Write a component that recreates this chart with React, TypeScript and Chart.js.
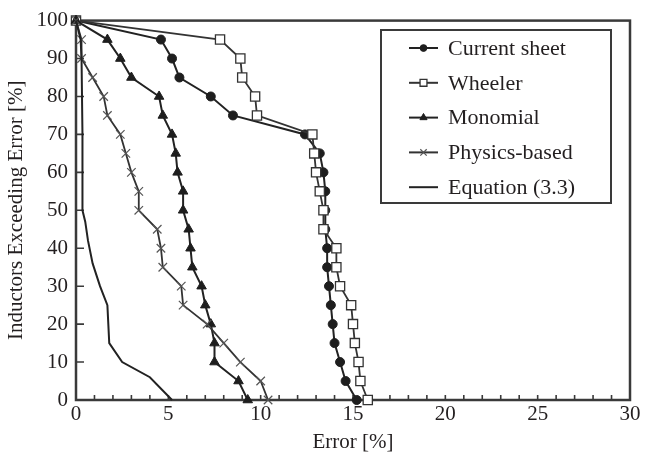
import React, { useEffect, useRef } from "react";
import { Chart, registerables } from "chart.js";

Chart.register(...registerables);

const FONT = "'Liberation Serif', 'Times New Roman', serif";
const INK = "#231f20";

// percentage levels (y) shared by the marker series
const levels = [100, 95, 90, 85, 80, 75, 70, 65, 60, 55, 50, 45, 40, 35, 30, 25, 20, 15, 10, 5, 0];

const currentSheetX = [0, 4.6, 5.2, 5.6, 7.3, 8.5, 12.4, 13.2, 13.4, 13.5, 13.5, 13.5, 13.6, 13.6, 13.7, 13.8, 13.9, 14.0, 14.3, 14.6, 15.2];
const wheelerX = [0, 7.8, 8.9, 9.0, 9.7, 9.8, 12.8, 12.9, 13.0, 13.2, 13.4, 13.4, 14.1, 14.1, 14.3, 14.9, 15.0, 15.1, 15.3, 15.4, 15.8];
const monomialX = [0, 1.7, 2.4, 3.0, 4.5, 4.7, 5.2, 5.4, 5.5, 5.8, 5.8, 6.1, 6.2, 6.3, 6.8, 7.0, 7.3, 7.5, 7.5, 8.8, 9.3];
const physicsX = [0, 0.3, 0.3, 0.9, 1.5, 1.7, 2.4, 2.7, 3.0, 3.4, 3.4, 4.4, 4.6, 4.7, 5.7, 5.8, 7.1, 8.0, 8.9, 10.0, 10.4];

const equationX = [0, 0.25, 0.3, 0.35, 0.35, 0.5, 0.65, 0.9, 1.3, 1.7, 1.75, 1.8, 2.5, 4.0, 5.2];
const equationY = [100, 95, 90, 70, 50, 47, 42, 36, 30, 25, 20, 15, 10, 6, 0];

const seriesNames = ["Current sheet", "Wheeler", "Monomial", "Physics-based", "Equation (3.3)"];

const xTicks = [0, 5, 10, 15, 20, 25, 30];
const yTicks = [0, 10, 20, 30, 40, 50, 60, 70, 80, 90, 100];

type Pt = { x: number; y: number };
const pts = (xs: number[], ys: number[]): Pt[] => xs.map((x, i) => ({ x, y: ys[i] }));

function drawMarker(ctx: CanvasRenderingContext2D, style: string, x: number, y: number, r: number, fill: string, stroke: string, lw: number) {
  ctx.save();
  ctx.lineWidth = lw;
  ctx.strokeStyle = stroke;
  ctx.fillStyle = fill;
  ctx.beginPath();
  if (style === "circle") {
    ctx.arc(x, y, r, 0, Math.PI * 2);
    ctx.fill();
    ctx.stroke();
  } else if (style === "rect") {
    const s = r * Math.SQRT1_2;
    ctx.rect(x - s, y - s, 2 * s, 2 * s);
    ctx.fill();
    ctx.stroke();
  } else if (style === "triangle") {
    const h = r * 1.5;
    const w = (r * Math.sqrt(3)) / 2;
    ctx.moveTo(x, y - h * 0.6667);
    ctx.lineTo(x + w, y + h * 0.3333);
    ctx.lineTo(x - w, y + h * 0.3333);
    ctx.closePath();
    ctx.fill();
    ctx.stroke();
  } else if (style === "crossRot") {
    const d = r * Math.SQRT1_2;
    ctx.moveTo(x - d, y - d);
    ctx.lineTo(x + d, y + d);
    ctx.moveTo(x - d, y + d);
    ctx.lineTo(x + d, y - d);
    ctx.stroke();
  }
  ctx.restore();
}

export default function App() {
  const ref = useRef<HTMLCanvasElement>(null);

  useEffect(() => {
    if (!ref.current) return;

    const styles = [
      { name: seriesNames[0], style: "circle", r: 4.5, fill: "#1e1e1e", stroke: "#1e1e1e", pbw: 1, line: "#222", lw: 2 },
      { name: seriesNames[1], style: "rect", r: 6.5, fill: "#ffffff", stroke: "#333", pbw: 1.3, line: "#333", lw: 1.8 },
      { name: seriesNames[2], style: "triangle", r: 5.5, fill: "#1e1e1e", stroke: "#1e1e1e", pbw: 1, line: "#222", lw: 2 },
      { name: seriesNames[3], style: "crossRot", r: 6, fill: "rgba(0,0,0,0)", stroke: "#555", pbw: 1.2, line: "#333", lw: 1.8 },
      { name: seriesNames[4], style: false as any, r: 0, fill: "#222", stroke: "#222", pbw: 0, line: "#222", lw: 2 },
    ];

    const dataSets = [
      pts(currentSheetX, levels),
      pts(wheelerX, levels),
      pts(monomialX, levels),
      pts(physicsX, levels),
      pts(equationX, equationY),
    ];

    const framePlugin = {
      id: "frame",
      beforeDatasetsDraw(chart: any) {
        const { ctx, chartArea: a, scales } = chart;
        ctx.save();
        ctx.strokeStyle = "#3a3a3a";
        ctx.lineWidth = 2.5;
        ctx.strokeRect(a.left, a.top, a.right - a.left, a.bottom - a.top);
        ctx.lineWidth = 1.6;
        ctx.beginPath();
        for (let v = 1; v < 30; v++) {
          const px = scales.x.getPixelForValue(v);
          ctx.moveTo(px, a.bottom);
          ctx.lineTo(px, a.bottom - 5);
        }
        for (let v = 10; v < 100; v += 10) {
          const py = scales.y.getPixelForValue(v);
          ctx.moveTo(a.left, py);
          ctx.lineTo(a.left + 8, py);
        }
        ctx.stroke();
        ctx.restore();
      },
    };

    const legendPlugin = {
      id: "boxLegend",
      afterDraw(chart: any) {
        const { ctx } = chart;
        const left = 381, top = 30, right = 611, bottom = 203;
        ctx.save();
        ctx.fillStyle = "#fff";
        ctx.fillRect(left, top, right - left, bottom - top);
        ctx.strokeStyle = "#3a3a3a";
        ctx.lineWidth = 2;
        ctx.strokeRect(left, top, right - left, bottom - top);
        styles.forEach((s, i) => {
          const y = 48 + i * 34.8;
          ctx.strokeStyle = s.line;
          ctx.lineWidth = 2;
          ctx.beginPath();
          ctx.moveTo(409, y);
          ctx.lineTo(438, y);
          ctx.stroke();
          if (s.style) drawMarker(ctx, s.style, 423.5, y, s.r * 0.75, s.fill, s.stroke, s.pbw);
          ctx.fillStyle = INK;
          ctx.font = `22px ${FONT}`;
          ctx.textAlign = "left";
          ctx.textBaseline = "middle";
          ctx.fillText(s.name, 448, y + 1);
        });
        ctx.restore();
      },
    };

    const chart = new Chart(ref.current, {
      type: "scatter",
      data: {
        datasets: styles.map((s, i) => ({
          label: s.name,
          data: dataSets[i],
          showLine: true,
          borderColor: s.line,
          borderWidth: s.lw,
          backgroundColor: s.fill,
          pointStyle: s.style,
          pointRadius: s.r,
          pointHoverRadius: s.r,
          pointBackgroundColor: s.fill,
          pointBorderColor: s.stroke,
          pointBorderWidth: s.pbw,
          tension: 0,
          clip: false as any,
          order: 4 - i,
        })),
      },
      options: {
        animation: false,
        responsive: false,
        events: [],
        layout: { padding: { left: 0, top: 15, right: 16, bottom: 0 } },
        plugins: { legend: { display: false }, tooltip: { enabled: false } },
        scales: {
          x: {
            type: "linear",
            min: 0,
            max: 30,
            afterBuildTicks: (scale: any) => {
              scale.ticks = xTicks.map((v) => ({ value: v }));
            },
            afterFit: (scale: any) => {
              scale.height = 61;
            },
            grid: { display: false, drawTicks: false },
            border: { display: false },
            ticks: { color: INK, font: { family: FONT, size: 21 }, padding: 2, maxRotation: 0 },
            title: { display: true, text: "Error [%]", color: INK, font: { family: FONT, size: 21 }, padding: { top: 0, bottom: 6 } },
          },
          y: {
            type: "linear",
            min: 0,
            max: 100,
            afterBuildTicks: (scale: any) => {
              scale.ticks = yTicks.map((v) => ({ value: v }));
            },
            afterFit: (scale: any) => {
              scale.width = 76;
            },
            grid: { display: false, drawTicks: false },
            border: { display: false },
            ticks: { color: INK, font: { family: FONT, size: 21 }, padding: 8 },
            title: { display: true, text: "Inductors Exceeding Error [%]", color: INK, font: { family: FONT, size: 21 }, padding: { top: 4, bottom: 0 } },
          },
        },
      },
      plugins: [framePlugin, legendPlugin],
    } as any);

    return () => chart.destroy();
  }, []);

  return (
    <div style={{ position: "fixed", left: 0, top: 0, width: 646, height: 461, background: "#fff" }}>
      <canvas ref={ref} width={646} height={461} style={{ display: "block", width: 646, height: 461 }} />
    </div>
  );
}
